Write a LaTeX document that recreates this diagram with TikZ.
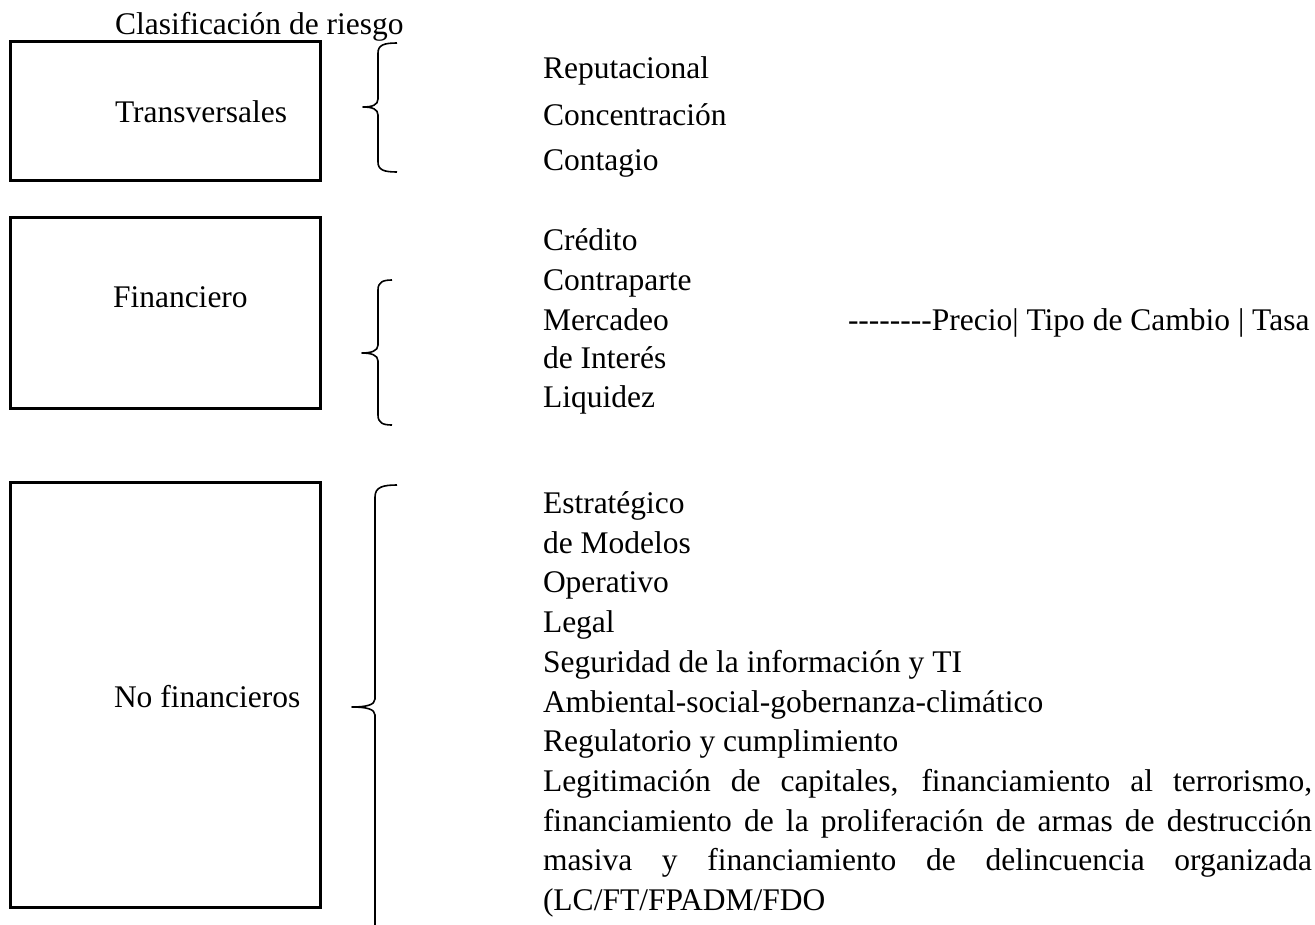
\documentclass[tikz,border=0pt]{standalone}
\usepackage{fontspec}
\setmainfont{Liberation Serif}
\begin{document}
\begin{tikzpicture}[x=1pt,y=-1pt,
  box/.style={draw, line width=3pt, inner sep=0pt, outer sep=0pt, anchor=north west},
  lbl/.style={anchor=base west, inner sep=0pt, outer sep=0pt, font=\fontsize{31.5}{40}\selectfont},
  bracepath/.style={line width=1.6pt, line join=round}]
\useasboundingbox (0,0) rectangle (1315,924);

% title
\node[lbl] (title) at (115,34) {Clasificación de riesgo};

% boxes
\node[box, minimum width=310pt, minimum height=139pt] (b1) at (10,41) {};
\node[box, minimum width=310pt, minimum height=191pt] (b2) at (10,217) {};
\node[box, minimum width=310pt, minimum height=425pt] (b3) at (10,482) {};
\node[lbl] (t1) at (115,122) {Transversales};
\node[lbl] (t2) at (113,307) {Financiero};
\node[lbl] (t3) at (114,707) {No financieros};

% braces
\draw[bracepath] (397,43) .. controls (384,43) and (378,45) .. (378,53) -- (378,99)
  .. controls (378,105) and (372,107) .. (363,107)
  .. controls (372,107) and (378,109) .. (378,115) -- (378,162)
  .. controls (378,170) and (384,172) .. (397,172);
\draw[bracepath] (392,280) .. controls (383,280) and (378,282) .. (378,290) -- (378,345)
  .. controls (378,351) and (371,353) .. (362,353)
  .. controls (371,353) and (378,355) .. (378,361) -- (378,415)
  .. controls (378,423) and (383,425) .. (392,425);
\draw[bracepath] (397,485) .. controls (383,485) and (375,487) .. (375,497) -- (375,699)
  .. controls (375,705) and (366,707) .. (352,707)
  .. controls (366,707) and (375,709) .. (375,715) -- (375,930);

% Transversales list
\node[lbl] (r1) at (543,78) {Reputacional};
\node[lbl] (r2) at (543,125) {Concentración};
\node[lbl] (r3) at (543,170) {Contagio};

% Financiero list
\node[lbl] (f1) at (543,250) {Crédito};
\node[lbl] (f2) at (543,290) {Contraparte};
\node[lbl] (f3) at (543,330) {Mercadeo};
\node[lbl] (f4) at (543,368) {de Interés};
\node[lbl] (f5) at (543,407) {Liquidez};
\node[lbl] (f6) at (848,330) {-{}-{}-{}-{}-{}-{}-{}-Precio| Tipo de Cambio | Tasa};

% No financieros list
\node[lbl] (n1) at (543,513) {Estratégico};
\node[lbl] (n2) at (543,553) {de Modelos};
\node[lbl] (n3) at (543,592) {Operativo};
\node[lbl] (n4) at (543,632) {Legal};
\node[lbl] (n5) at (543,672) {Seguridad de la información y TI};
\node[lbl] (n6) at (543,712) {Ambiental-social-gobernanza-climático};
\node[lbl] (n7) at (543,751) {Regulatorio y cumplimiento};
\node[lbl] (n8) at (543,791) {\makebox[769pt][s]{Legitimación de capitales, financiamiento al terrorismo,}};
\node[lbl] (n9) at (543,831) {\makebox[769pt][s]{financiamiento de la proliferación de armas de destrucción}};
\node[lbl] (n10) at (543,870) {\makebox[769pt][s]{masiva y financiamiento de delincuencia organizada}};
\node[lbl] (n11) at (543,910) {(LC/FT/FPADM/FDO};
\end{tikzpicture}
\end{document}
